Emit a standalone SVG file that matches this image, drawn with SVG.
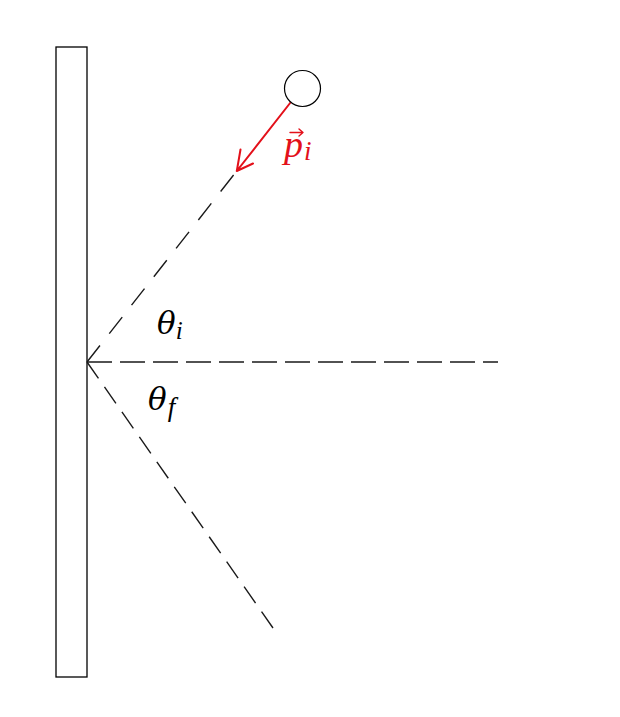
<svg xmlns="http://www.w3.org/2000/svg" width="620" height="717" viewBox="0 0 620 717">
  <style>
    .wall { fill: none; stroke: #000; stroke-width: 1.3; }
    .dash { fill: none; stroke: #1a1a1a; stroke-width: 1.4; }
    .lbl { font-family: "Liberation Serif", "DejaVu Serif", serif; font-style: italic; fill: #000; }
    .th { font-family: "DejaVu Serif", "Liberation Serif", serif; font-style: italic; font-weight: normal; }
    .sub { font-family: "Liberation Serif", "DejaVu Serif", serif; }
    .red { fill: #e3101a; }
    .redline { stroke: #e3101a; fill: none; stroke-linecap: round; stroke-linejoin: round; }
  </style>
  <rect width="620" height="717" fill="#fff"/>
  <g id="wall">
    <rect class="wall" x="56" y="47" width="31" height="630"/>
  </g>
  <g id="connectors">
    <path class="dash" d="M87,362 L498,362" stroke-dasharray="25 8"/>
    <path class="dash" d="M87,362 L233.6,175" stroke-dasharray="21 15.1"/>
    <path class="dash" d="M87,362 L273,628" stroke-dasharray="20 10.46"/>
    <path class="redline" stroke-width="2" d="M290.5,102.5 L236.8,171 M240.5,149.5 L236.8,171 L253,163.5"/>
  </g>
  <g id="particle">
    <circle cx="302.5" cy="88.5" r="18" fill="#fff" stroke="#000" stroke-width="1.2"/>
  </g>
  <g id="label-p">
    <text class="lbl red" x="284" y="157" font-size="38">p<tspan font-size="27" dx="1" dy="3">i</tspan></text>
    <path class="redline" stroke-width="1.4" d="M290,132.5 L303,132.5 M299,129 L303,132.5 L299,136"/>
  </g>
  <g id="label-theta-i">
    <text class="lbl th" x="157" y="334" font-size="31">θ<tspan class="sub" font-size="25" dx="0" dy="5">i</tspan></text>
  </g>
  <g id="label-theta-f">
    <text class="lbl th" x="148" y="410" font-size="31">θ<tspan class="sub" font-size="27" dx="1" dy="6">f</tspan></text>
  </g>
</svg>
